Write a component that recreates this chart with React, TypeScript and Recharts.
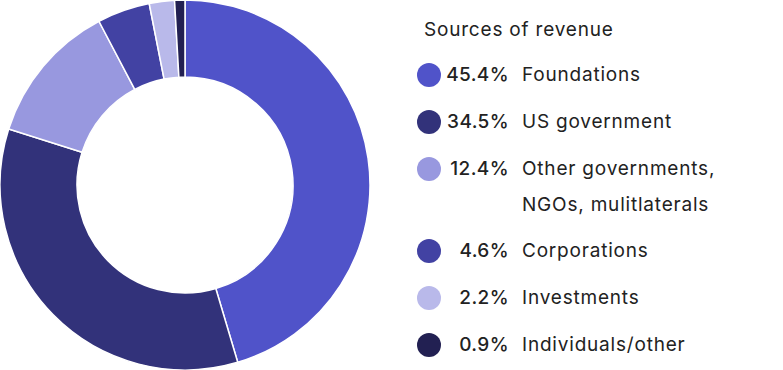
import React from "react";
import { PieChart, Pie, Cell } from "recharts";

const categories = [
  "Foundations",
  "US government",
  "Other governments, NGOs, mulitlaterals",
  "Corporations",
  "Investments",
  "Individuals/other",
];
const shares = [45.4, 34.5, 12.4, 4.6, 2.2, 0.9];
const colors = ["#5053C9", "#32327A", "#9898DF", "#4242A3", "#B9B9EA", "#222052"];
const legendTitle = "Sources of revenue";

const data = categories.map((name, i) => ({ name, value: shares[i] }));

const FONT = "Inter, 'Noto Sans', sans-serif";

export default function App() {
  return (
    <div style={{ position: "absolute", left: 0, top: 0, width: 783, height: 370, background: "#fff" }}>
      <PieChart width={783} height={370} margin={{ top: 0, right: 0, bottom: 0, left: 0 }}>
        <Pie
          data={data}
          dataKey="value"
          nameKey="name"
          cx={185}
          cy={185}
          innerRadius={108}
          outerRadius={185}
          startAngle={90}
          endAngle={-270}
          stroke="#ffffff"
          strokeWidth={1.5}
          isAnimationActive={false}
        >
          {data.map((d, i) => (
            <Cell key={d.name} fill={colors[i]} />
          ))}
        </Pie>
      </PieChart>
      <div
        style={{
          position: "absolute",
          left: 417,
          top: 12,
          fontFamily: FONT,
          fontSize: 19,
          color: "#222222",
          lineHeight: "36px",
          letterSpacing: 0.8,
        }}
      >
        <div style={{ marginLeft: 7, marginBottom: 9 }}>{legendTitle}</div>
        {data.map((d, i) => (
          <div key={d.name} style={{ display: "flex", alignItems: "flex-start", marginBottom: 10.8 }}>
            <div
              style={{
                width: 24,
                height: 24,
                borderRadius: 12,
                background: colors[i],
                marginTop: 6,
                flex: "none",
              }}
            />
            <div style={{ width: 68, textAlign: "right", fontWeight: 500, flex: "none", letterSpacing: 0.4 }}>
              {d.value.toFixed(1)}%
            </div>
            <div style={{ marginLeft: 13, width: 215 }}>{d.name}</div>
          </div>
        ))}
      </div>
    </div>
  );
}
